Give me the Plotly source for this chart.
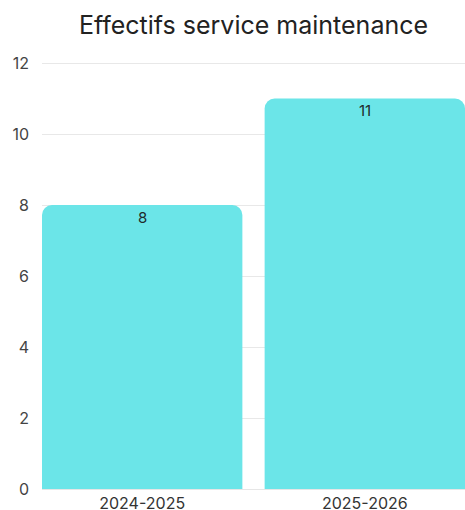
import plotly.graph_objects as go

categories = ["2024-2025", "2025-2026"]
values = [8, 11]
y_ticks = [0, 2, 4, 6, 8, 10, 12]

fig = go.Figure()
fig.add_trace(go.Bar(
    x=categories,
    y=values,
    marker=dict(color="#6BE5E8", line=dict(width=0)),
    width=0.9,
    hoverinfo="skip",
))

for cat, val in zip(categories, values):
    fig.add_annotation(
        x=cat,
        y=val,
        text=str(val),
        showarrow=False,
        yshift=-12,
        yanchor="middle",
        font=dict(family="Inter", size=15, color="#1f2a2a"),
    )

fig.update_layout(
    width=465,
    height=510,
    margin=dict(l=42, r=0, t=62, b=21),
    paper_bgcolor="white",
    plot_bgcolor="white",
    barcornerradius=10,
    title=dict(
        text="Effectifs service maintenance",
        x=0.5,
        xref="paper",
        xanchor="center",
        y=0.951,
        yref="container",
        yanchor="middle",
        font=dict(family="Inter", size=25, color="#222222"),
    ),
    font=dict(family="Inter", size=16, color="#444444"),
    showlegend=False,
)

fig.update_xaxes(
    type="category",
    range=[-0.45, 1.45],
    showgrid=False,
    showline=True,
    linecolor="#e6e6e6",
    linewidth=1,
    ticks="",
    automargin=False,
    tickfont=dict(family="Inter", size=16, color="#333333"),
    fixedrange=True,
)
fig.update_yaxes(
    range=[0, 12.03],
    tickvals=y_ticks,
    showgrid=True,
    gridcolor="#e8e8e8",
    gridwidth=1,
    zeroline=False,
    ticks="",
    automargin=False,
    ticklabelstandoff=12,
    tickfont=dict(family="Inter", size=16, color="#444444"),
    fixedrange=True,
)

fig.write_html(
    "out.html",
    config={"displayModeBar": False},
    post_script="document.body.style.margin='0';",
)
